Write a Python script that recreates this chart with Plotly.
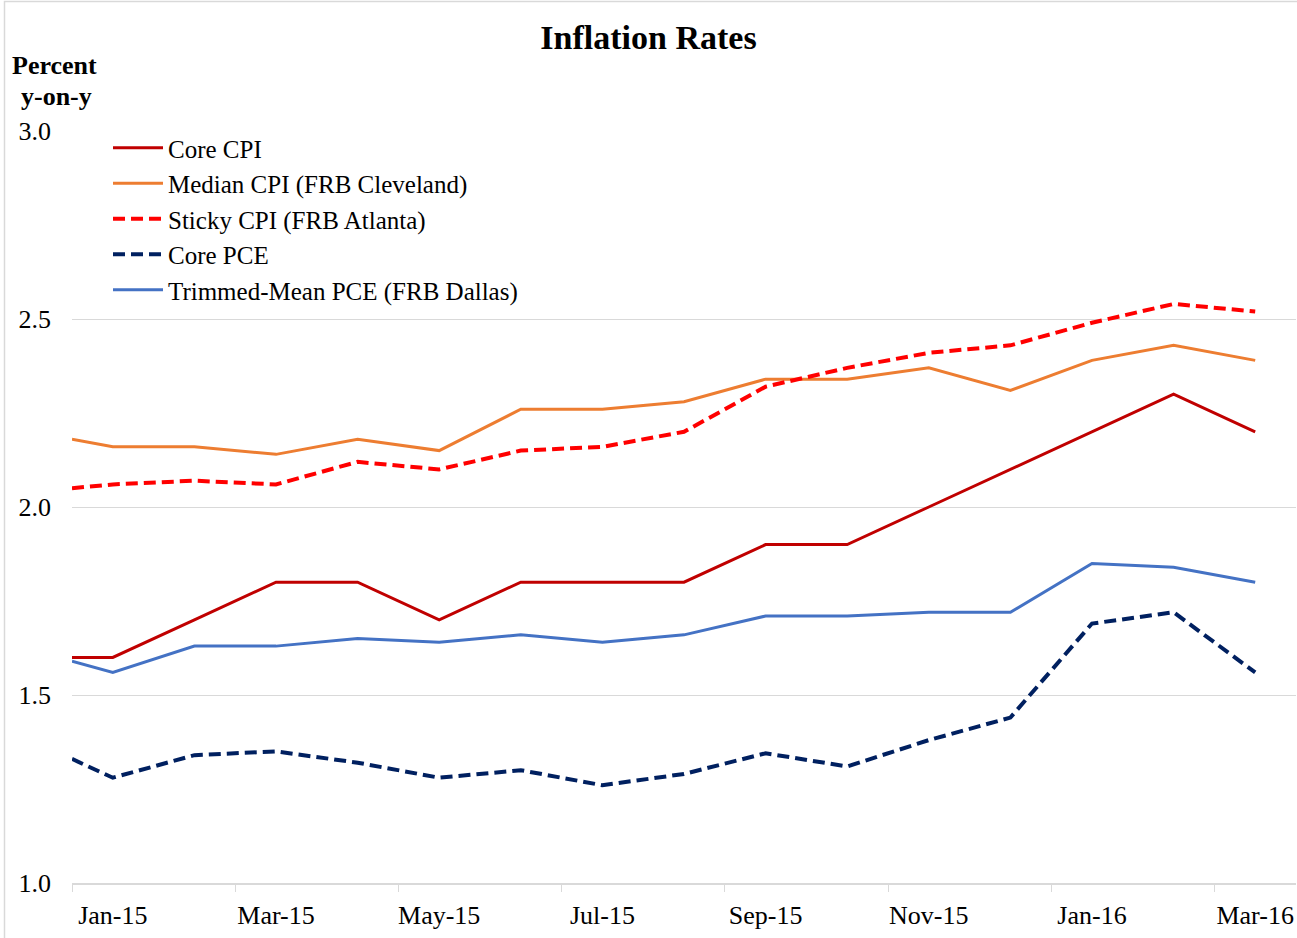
import plotly.graph_objects as go

# ---- data ----
months = ["Jan-15", "Feb-15", "Mar-15", "Apr-15", "May-15", "Jun-15", "Jul-15", "Aug-15",
          "Sep-15", "Oct-15", "Nov-15", "Dec-15", "Jan-16", "Feb-16", "Mar-16"]
# first reading sits at the left edge of the axis, the rest at each month
x_pos = [-0.5] + list(range(len(months)))

core_cpi = [1.60, 1.60, 1.70, 1.80, 1.80, 1.70, 1.80, 1.80, 1.80, 1.90, 1.90, 2.00, 2.10, 2.20, 2.30, 2.20]
median_cpi = [2.18, 2.16, 2.16, 2.14, 2.18, 2.15, 2.26, 2.26, 2.28, 2.34, 2.34, 2.37, 2.31, 2.39, 2.43, 2.39]
sticky_cpi = [2.05, 2.06, 2.07, 2.06, 2.12, 2.10, 2.15, 2.16, 2.20, 2.32, 2.37, 2.41, 2.43, 2.49, 2.54, 2.52]
core_pce = [1.33, 1.28, 1.34, 1.35, 1.32, 1.28, 1.30, 1.26, 1.29, 1.345, 1.31, 1.38, 1.44, 1.69, 1.72, 1.56]
trimmed_pce = [1.59, 1.56, 1.63, 1.63, 1.65, 1.64, 1.66, 1.64, 1.66, 1.71, 1.71, 1.72, 1.72, 1.85, 1.84, 1.80]

y_ticks = [1.0, 1.5, 2.0, 2.5, 3.0]

FONT = "Liberation Serif, Times New Roman, serif"

series = [
    ("Core CPI", core_cpi, "#C00000", "solid", 3),
    ("Median CPI (FRB Cleveland)", median_cpi, "#ED7D31", "solid", 3),
    ("Sticky CPI (FRB Atlanta)", sticky_cpi, "#FF0000", "12px,6px", 4),
    ("Core PCE", core_pce, "#002060", "12px,6px", 4),
    ("Trimmed-Mean PCE (FRB Dallas)", trimmed_pce, "#4472C4", "solid", 3),
]

fig = go.Figure()
for name, vals, color, dash, width in series:
    fig.add_trace(go.Scatter(
        x=x_pos, y=vals, name=name, mode="lines",
        line=dict(color=color, width=width, dash=dash),
        hoverinfo="skip",
    ))

label_idx = list(range(0, len(months), 2))
boundaries = [i - 0.5 for i in label_idx]

fig.update_layout(
    width=1297, height=938,
    margin=dict(l=72, r=1, t=131, b=55),
    paper_bgcolor="white", plot_bgcolor="white",
    font=dict(family=FONT, size=26, color="black"),
    title=dict(text="<b>Inflation Rates</b>", x=0.5, xanchor="center",
               y=1 - 37 / 938, yanchor="middle",
               font=dict(family=FONT, size=34, color="black")),
    showlegend=True,
    legend=dict(x=(108 - 72) / 1224, xanchor="left", y=1 + 6 / 752, yanchor="top",
                bgcolor="rgba(0,0,0,0)", font=dict(family=FONT, size=25),
                itemwidth=50, tracegroupgap=0),
    xaxis=dict(
        range=[-0.5, len(months) - 0.5],
        tickmode="array", tickvals=label_idx, ticktext=[months[i] for i in label_idx],
        ticks="outside", ticklen=8, tickcolor="rgba(0,0,0,0)",
        showgrid=False, zeroline=False,
        showline=True, linecolor="#D9D9D9", linewidth=1.5,
        tickfont=dict(family=FONT, size=26),
        minor=dict(tickmode="array", tickvals=boundaries, ticks="outside",
                   ticklen=7, tickcolor="#D9D9D9", tickwidth=1, showgrid=False),
    ),
    yaxis=dict(
        range=[1.0, 3.0],
        tickmode="array", tickvals=y_ticks, ticktext=[f"{v:.1f}" for v in y_ticks],
        showgrid=True, gridcolor="#D9D9D9", gridwidth=1,
        zeroline=False, showline=False, ticks="",
        ticklabelstandoff=20,
        tickfont=dict(family=FONT, size=26),
    ),
    annotations=[
        dict(text="<b>Percent</b>", xref="paper", yref="paper",
             x=(54 - 72) / 1224, y=1 + (131 - 66) / 752, xanchor="center", yanchor="middle",
             showarrow=False, font=dict(family=FONT, size=26, color="black")),
        dict(text="<b>y-on-y</b>", xref="paper", yref="paper",
             x=(56 - 72) / 1224, y=1 + (131 - 97) / 752, xanchor="center", yanchor="middle",
             showarrow=False, font=dict(family=FONT, size=26, color="black")),
    ],
    shapes=[dict(
        type="rect", xref="paper", yref="paper",
        x0=(4.5 - 72) / 1224, x1=1 + 5 / 1224, y0=-60 / 752, y1=1 + (131 - 1.5) / 752,
        line=dict(color="#D9D9D9", width=1.5), fillcolor="rgba(0,0,0,0)", layer="below",
    )],
)

fig.write_html("out.html", config={"displayModeBar": False},
               post_script="document.body.style.margin='0';")
